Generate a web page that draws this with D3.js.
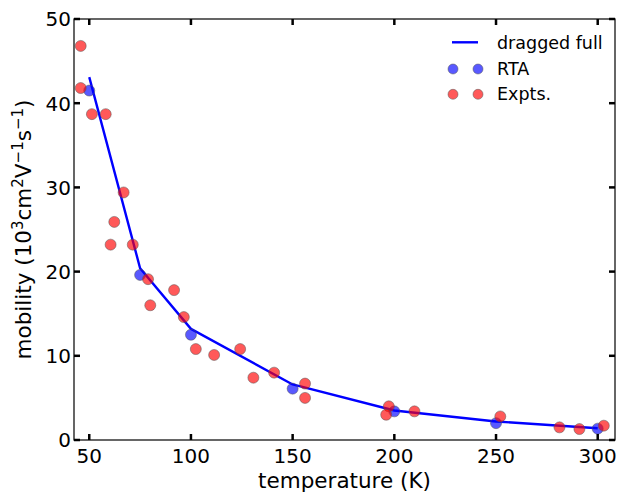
<!DOCTYPE html>
<html>
<head>
<meta charset="utf-8">
<script src="https://cdn.jsdelivr.net/npm/d3@7"></script>
<style>
  html, body { margin: 0; padding: 0; background: #fff; }
  svg { display: block; font-family: "DejaVu Sans", sans-serif; }
</style>
</head>
<body>
<svg id="chart" width="619" height="496"></svg>
<script>
// ---- data ----
const lineT = [50, 75, 100, 150, 200, 250, 300];
const lineMu = [43.1, 20.4, 13.2, 6.6, 3.5, 2.2, 1.4];

const rtaT = [50, 75, 100, 150, 200, 250, 300];
const rtaMu = [41.5, 19.6, 12.5, 6.1, 3.4, 2.0, 1.35];

const exptT = [45.8, 45.8, 51.3, 58.1, 66.9, 62.3, 60.5, 71.4, 78.9, 80.0, 91.7, 96.5,
               102.4, 111.4, 124.2, 130.7, 140.9, 156.1, 156.1, 197.3, 196.0, 209.9,
               252.1, 281.2, 291.0, 303.0];
const exptMu = [46.8, 41.8, 38.7, 38.7, 29.4, 25.9, 23.2, 23.2, 19.1, 16.0, 17.8, 14.6,
                10.8, 10.1, 10.8, 7.4, 8.0, 6.7, 5.0, 4.0, 3.0, 3.4,
                2.8, 1.5, 1.3, 1.7];

const xTicks = [50, 100, 150, 200, 250, 300];
const yTicks = [0, 10, 20, 30, 40, 50];
const legendLabels = ["dragged full", "RTA", "Expts."];

// ---- layout ----
const L = 74, R = 615, T = 19, B = 440;
const svg = d3.select("#chart");
const x = d3.scaleLinear().domain([42.5, 308.5]).range([L, R]);
const y = d3.scaleLinear().domain([0, 50]).range([B, T]);

const blue = "#0000ff", red = "#ff0000", mblue = "#0000ff";

// ---- line ----
const lineData = lineT.map((t, i) => [t, lineMu[i]]);
svg.append("path")
  .datum(lineData)
  .attr("fill", "none")
  .attr("stroke", blue)
  .attr("stroke-width", 2.4)
  .attr("stroke-linejoin", "round")
  .attr("d", d3.line().x(d => x(d[0])).y(d => y(d[1])));

// ---- markers ----
function dots(ts, ms, color) {
  svg.append("g").selectAll("circle")
    .data(ts.map((t, i) => [t, ms[i]]))
    .join("circle")
    .attr("cx", d => x(d[0]))
    .attr("cy", d => y(d[1]))
    .attr("r", 5.5)
    .attr("fill", color)
    .attr("fill-opacity", 0.65)
    .attr("stroke", "#555")
    .attr("stroke-opacity", 0.5)
    .attr("stroke-width", 1);
}
dots(rtaT, rtaMu, mblue);
dots(exptT, exptMu, red);

// ---- frame ----
svg.append("rect")
  .attr("x", L).attr("y", T)
  .attr("width", R - L).attr("height", B - T)
  .attr("fill", "none").attr("stroke", "#000").attr("stroke-width", 1.2);

// ---- ticks (inward, all sides) ----
const tl = 6, tw = 2.5;
const tg = svg.append("g").attr("stroke", "#000").attr("stroke-width", tw);
xTicks.forEach(t => {
  tg.append("line").attr("x1", x(t)).attr("x2", x(t)).attr("y1", B).attr("y2", B - tl);
  tg.append("line").attr("x1", x(t)).attr("x2", x(t)).attr("y1", T).attr("y2", T + tl);
});
yTicks.forEach(v => {
  tg.append("line").attr("x1", L).attr("x2", L + tl).attr("y1", y(v)).attr("y2", y(v));
  tg.append("line").attr("x1", R).attr("x2", R - tl).attr("y1", y(v)).attr("y2", y(v));
});

// ---- tick labels ----
svg.append("g").selectAll("text")
  .data(xTicks).join("text")
  .attr("x", d => x(d)).attr("y", 463)
  .attr("text-anchor", "middle")
  .attr("font-size", 20)
  .text(d => d);
svg.append("g").selectAll("text")
  .data(yTicks).join("text")
  .attr("x", 71).attr("y", d => y(d) + 7.3)
  .attr("text-anchor", "end")
  .attr("font-size", 20)
  .text(d => d);

// ---- axis labels ----
svg.append("text")
  .attr("x", (L + R) / 2).attr("y", 488)
  .attr("text-anchor", "middle")
  .attr("font-size", 21.5)
  .text("temperature (K)");

const yl = svg.append("text")
  .attr("transform", `translate(31,${(T + B) / 2}) rotate(-90)`)
  .attr("text-anchor", "middle")
  .attr("font-size", 21.5);
yl.append("tspan").text("mobility (10");
yl.append("tspan").attr("dy", -8).attr("font-size", 15).text("3");
yl.append("tspan").attr("dy", 8).text("cm");
yl.append("tspan").attr("dy", -8).attr("font-size", 15).text("2");
yl.append("tspan").attr("dy", 8).text("V");
yl.append("tspan").attr("dy", -8).attr("font-size", 15).text("\u22121");
yl.append("tspan").attr("dy", 8).text("s");
yl.append("tspan").attr("dy", -8).attr("font-size", 15).text("\u22121");
yl.append("tspan").attr("dy", 8).text(")");

// ---- legend ----
const lg = svg.append("g");
lg.append("line").attr("x1", 452).attr("x2", 478).attr("y1", 42.3).attr("y2", 42.3)
  .attr("stroke", blue).attr("stroke-width", 2.4);
[[69, mblue], [94.3, red]].forEach(([cy, c]) => {
  [453, 478].forEach(cx => {
    lg.append("circle").attr("cx", cx).attr("cy", cy).attr("r", 5)
      .attr("fill", c).attr("fill-opacity", 0.65)
      .attr("stroke", "#555").attr("stroke-opacity", 0.5).attr("stroke-width", 1);
  });
});
lg.selectAll("text").data(legendLabels).join("text")
  .attr("x", 497)
  .attr("y", (d, i) => [49, 75, 100][i])
  .attr("font-size", 17.5)
  .text(d => d);
</script>
</body>
</html>
